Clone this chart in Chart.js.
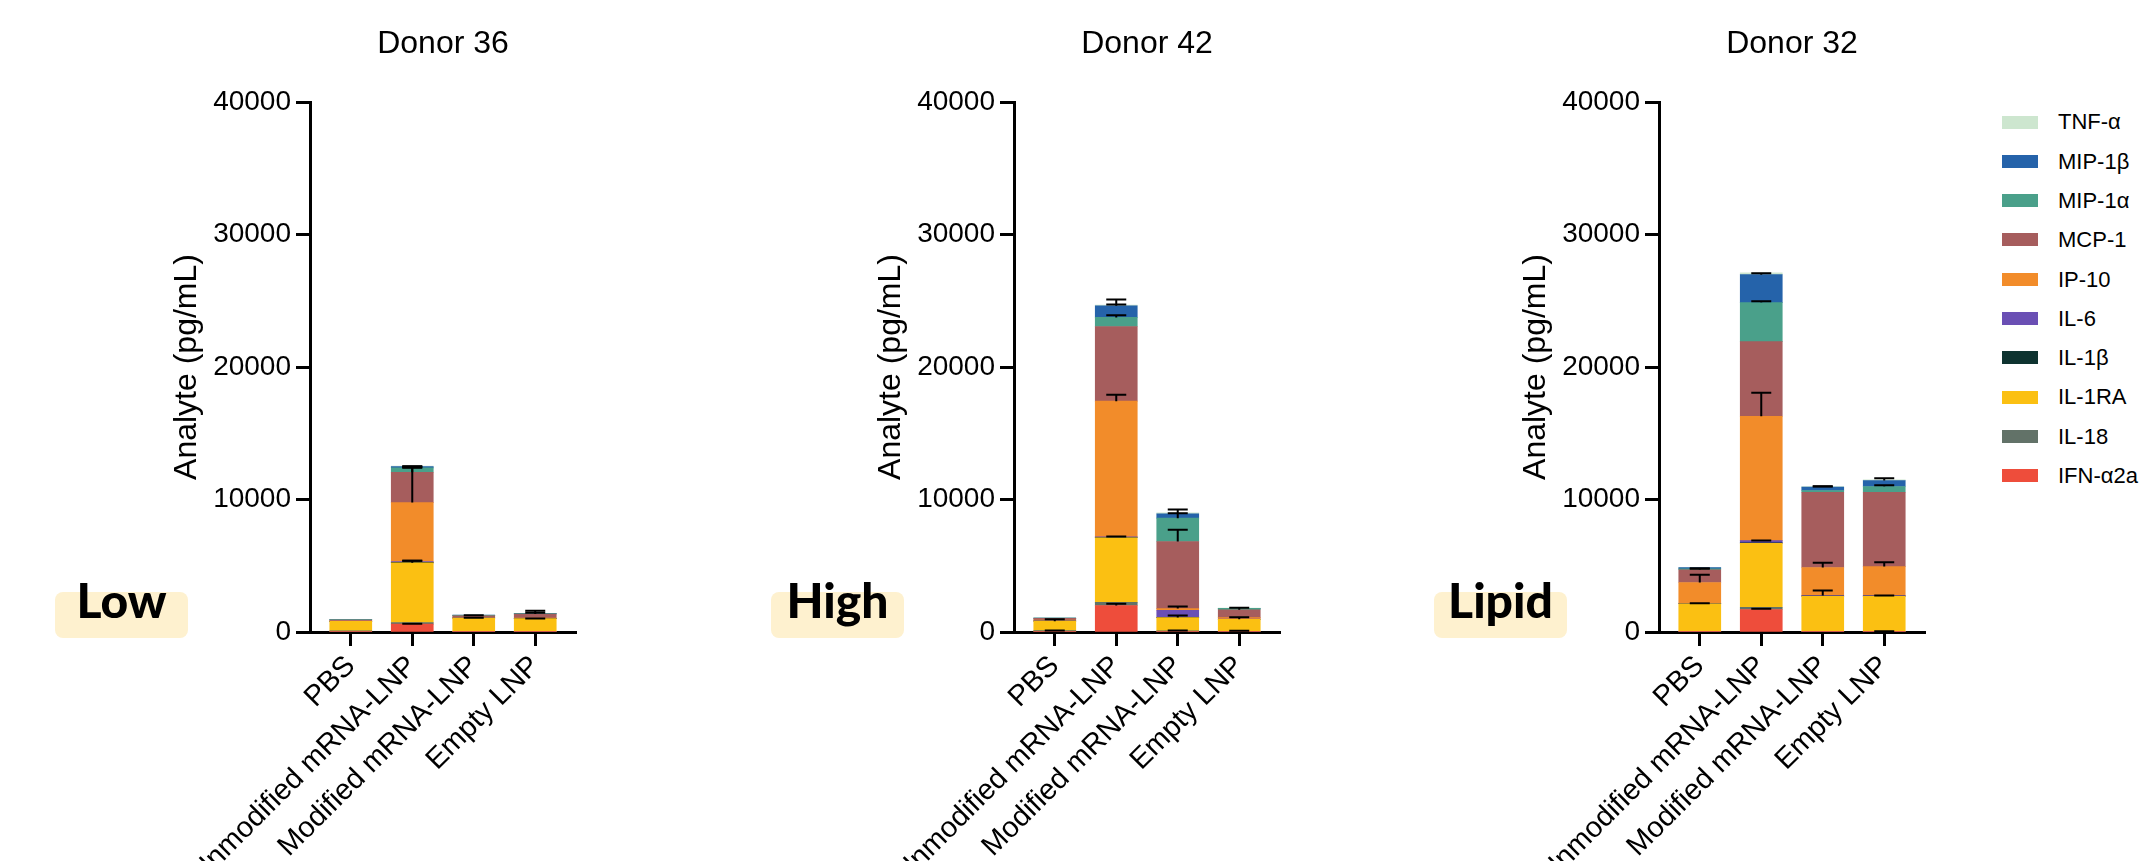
<!DOCTYPE html>
<html>
<head>
<meta charset="utf-8">
<title>Analyte by donor</title>
<script src="https://cdn.jsdelivr.net/npm/chart.js@4.4.1/dist/chart.umd.min.js"></script>
<style>
  html, body { margin: 0; padding: 0; background: #fff; }
  body { width: 2142px; height: 861px; position: relative; overflow: hidden; font-family: 'Liberation Sans', Arial, sans-serif; }
  canvas { position: absolute; top: 0; }
  .tag { position: absolute; top: 592px; width: 133px; height: 46px; border-radius: 8px; background: #fef1cf; }
  .tagtext { position: absolute; top: 576px; width: 133px; text-align: center; font: 900 48px Lato, 'DejaVu Sans', sans-serif; line-height: 48px; color: #000; }
  .swatch { position: absolute; left: 2002px; width: 36px; height: 13px; }
  .label { position: absolute; left: 2058px; font-size: 22px; line-height: 22px; color: #000; white-space: nowrap; }
</style>
</head>
<body>
<canvas id="c0" width="596" height="861"></canvas>
<canvas id="c1" width="596" height="861"></canvas>
<canvas id="c2" width="596" height="861"></canvas>
<div id="legend"></div>
<div id="tags"></div>
<script>
// groups on the x axis
const groups = ['PBS', 'Unmodified mRNA-LNP', 'Modified mRNA-LNP', 'Empty LNP'];
// analytes, stacked bottom -> top
const analytes = ['IFN-α2a', 'IL-18', 'IL-1RA', 'IL-1β', 'IL-6', 'IP-10', 'MCP-1', 'MIP-1α', 'MIP-1β', 'TNF-α'];
const colors = ['#ee4d3b', '#627268', '#fbc012', '#0e3330', '#6a4fb4', '#f28c2a', '#a65d5d', '#4aa08a', '#2563aa', '#cde6cf'];
const yTicks = [0, 10000, 20000, 30000, 40000];

// rows follow analytes, columns follow groups (pg/mL, mean)
const donor36Values = [
  [20, 590, 10, 10],
  [60, 130, 40, 40],
  [720, 4500, 1000, 960],
  [5, 30, 5, 5],
  [10, 70, 10, 10],
  [30, 4450, 40, 30],
  [60, 2290, 110, 300],
  [40, 330, 40, 30],
  [10, 100, 20, 20],
  [5, 30, 10, 10]
];
const donor36Errors = [
  [0, 30, 0, 0],
  [0, 0, 0, 0],
  [0, 150, 20, 10],
  [0, 0, 0, 0],
  [0, 50, 0, 0],
  [0, 2620, 0, 0],
  [0, 380, 40, 95],
  [0, 100, 0, 0],
  [0, 20, 0, 0],
  [0, 0, 0, 185]
];

const donor42Values = [
  [20, 2000, 20, 10],
  [80, 230, 60, 50],
  [720, 4880, 1010, 900],
  [5, 20, 20, 5],
  [10, 60, 530, 15],
  [60, 10230, 130, 100],
  [130, 5640, 5060, 600],
  [20, 680, 1760, 100],
  [10, 880, 330, 10],
  [20, 50, 80, 10]
];
const donor42Errors = [
  [0, 130, 0, 0],
  [15, 0, 30, 30],
  [146, 0, 155, 157],
  [0, 0, 0, 0],
  [0, 10, 0, 0],
  [0, 480, 154, 0],
  [0, 0, 883, 146],
  [0, 170, 376, 0],
  [0, 475, 325, 0],
  [0, 50, 0, 0]
];

const donor32Values = [
  [10, 1700, 10, 10],
  [50, 170, 40, 40],
  [2070, 4830, 2650, 2650],
  [5, 30, 5, 5],
  [10, 170, 45, 35],
  [1590, 9380, 2120, 2200],
  [960, 5640, 5680, 5610],
  [75, 2940, 130, 430],
  [100, 2110, 250, 450],
  [20, 130, 50, 50]
];
const donor32Errors = [
  [0, 51, 0, 0],
  [0, 0, 0, 10],
  [44, 0, 0, 0],
  [0, 0, 0, 0],
  [0, 10, 380, 15],
  [582, 1770, 352, 328],
  [97, 0, 0, 0],
  [20, 106, 0, 100],
  [0, 110, 50, 177],
  [0, 0, 20, 0]
];

const panels = [
  { title: 'Donor 36', tag: 'Low', axisX: 310, tagX: 55, values: donor36Values, errors: donor36Errors },
  { title: 'Donor 42', tag: 'High', axisX: 1014, tagX: 771, values: donor42Values, errors: donor42Errors },
  { title: 'Donor 32', tag: 'Lipid', axisX: 1659, tagX: 1434, values: donor32Values, errors: donor32Errors }
];

Chart.defaults.font.family = "'Liberation Sans', Arial, sans-serif";
Chart.defaults.color = '#000';

// mean + SD whiskers on top of each stacked segment
const errorBars = {
  id: 'errorBars',
  afterDatasetsDraw(chart, args, opts) {
    const ctx = chart.ctx;
    const y = chart.scales.y;
    const sets = chart.data.datasets;
    ctx.save();
    ctx.strokeStyle = '#000';
    ctx.lineWidth = 2;
    sets.forEach((ds, k) => {
      chart.getDatasetMeta(k).data.forEach((bar, j) => {
        const sd = opts.errors[k][j];
        if (!sd) return;
        let top = 0;
        for (let m = 0; m <= k; m++) top += sets[m].data[j];
        const y0 = y.getPixelForValue(top);
        const y1 = y.getPixelForValue(top + sd);
        ctx.beginPath();
        ctx.moveTo(bar.x, y0);
        ctx.lineTo(bar.x, y1);
        ctx.moveTo(bar.x - 10, y1);
        ctx.lineTo(bar.x + 10, y1);
        ctx.stroke();
      });
    });
    ctx.restore();
  }
};

panels.forEach((p, i) => {
  const canvas = document.getElementById('c' + i);
  canvas.style.left = (p.axisX - 300) + 'px';

  new Chart(canvas.getContext('2d'), {
    type: 'bar',
    data: {
      labels: groups,
      datasets: analytes.map((name, k) => ({
        label: name,
        data: p.values[k],
        backgroundColor: colors[k],
        borderWidth: 0,
        barThickness: 42
      }))
    },
    options: {
      responsive: false,
      animation: false,
      layout: { padding: { left: 0, right: 30, top: 0, bottom: 0 } },
      plugins: {
        legend: { display: false },
        tooltip: { enabled: false },
        title: {
          display: true,
          text: p.title,
          fullSize: false,
          font: { size: 32, weight: 'normal' },
          color: '#000',
          padding: { top: 25, bottom: 38.6 }
        },
        errorBars: { errors: p.errors }
      },
      scales: {
        x: {
          stacked: true,
          offset: true,
          grid: { drawOnChartArea: false, offset: false, tickLength: 14, tickWidth: 3, tickColor: '#000' },
          border: { color: '#000', width: 3 },
          ticks: { font: { size: 29 }, color: '#000', minRotation: 45, maxRotation: 45, autoSkip: false, padding: 3 },
          afterBuildTicks: function (s) {
            // wider gap between the y axis and the first bar
            s._startValue = -0.663;
            s._valueRange = 4.326;
          },
          afterFit: function (s) { s.height = 229; }
        },
        y: {
          stacked: true,
          min: yTicks[0],
          max: yTicks[yTicks.length - 1],
          afterBuildTicks: function (s) { s.ticks = yTicks.map(v => ({ value: v })); },
          grid: { drawOnChartArea: false, tickLength: 14, tickWidth: 3, tickColor: '#000' },
          border: { color: '#000', width: 3 },
          ticks: {
            font: { size: 28 },
            color: '#000',
            padding: 5,
            callback: function (value) { return String(value); }
          },
          title: {
            display: true,
            text: 'Analyte (pg/mL)',
            font: { size: 32 },
            color: '#000',
            padding: { top: 157.8, bottom: 0 }
          },
          afterFit: function (s) { s.width = 300; }
        }
      }
    },
    plugins: [errorBars]
  });

  const box = document.createElement('div');
  box.className = 'tag';
  box.style.left = p.tagX + 'px';
  const txt = document.createElement('div');
  txt.className = 'tagtext';
  txt.style.left = p.tagX + 'px';
  txt.textContent = p.tag;
  document.getElementById('tags').append(box, txt);
});

// legend, top of the stack first
const legend = document.getElementById('legend');
analytes.slice().reverse().forEach((name, i) => {
  const cy = 122 + 39.3 * i;
  const sw = document.createElement('div');
  sw.className = 'swatch';
  sw.style.top = (cy - 6.5) + 'px';
  sw.style.background = colors[analytes.length - 1 - i];
  const lb = document.createElement('div');
  lb.className = 'label';
  lb.style.top = (cy - 10.7) + 'px';
  lb.textContent = name;
  legend.append(sw, lb);
});
</script>
</body>
</html>
